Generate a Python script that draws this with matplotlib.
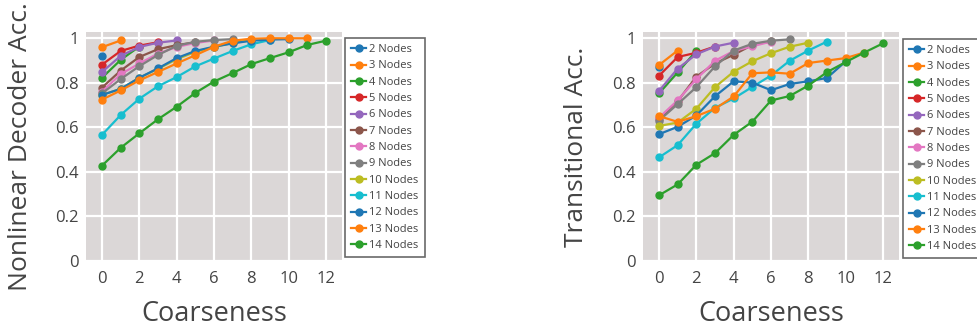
import matplotlib
matplotlib.use("Agg")
import matplotlib.pyplot as plt

plt.rcParams["font.family"] = ["Open Sans", "DejaVu Sans"]

# ── 数据 ─────────────────────────────────────────────────────────
node_labels = [f"{n} Nodes" for n in range(2, 15)]

nonlinear_acc = [
    [0.918],
    [0.959, 0.989],
    [0.822, 0.902, 0.962],
    [0.881, 0.942, 0.966, 0.981],
    [0.848, 0.920, 0.960, 0.979, 0.989],
    [0.778, 0.854, 0.915, 0.950, 0.968, 0.981],
    [0.760, 0.838, 0.886, 0.930, 0.960, 0.978, 0.989],
    [0.752, 0.816, 0.874, 0.924, 0.965, 0.983, 0.991, 0.995],
    [0.745, 0.772, 0.822, 0.862, 0.905, 0.938, 0.960, 0.978, 0.990],
    [0.566, 0.655, 0.728, 0.784, 0.825, 0.873, 0.908, 0.942, 0.972, 0.991],
    [0.745, 0.772, 0.822, 0.864, 0.910, 0.942, 0.961, 0.976, 0.988, 0.993, 0.995],
    [0.724, 0.765, 0.810, 0.848, 0.886, 0.923, 0.961, 0.988, 0.997, 0.999, 0.999, 0.999],
    [0.428, 0.508, 0.573, 0.636, 0.692, 0.754, 0.805, 0.843, 0.883, 0.910, 0.936, 0.969, 0.988],
]

transitional_acc = [
    [0.872],
    [0.879, 0.944],
    [0.752, 0.846, 0.943],
    [0.831, 0.915, 0.934, 0.962],
    [0.763, 0.863, 0.927, 0.962, 0.979],
    [0.636, 0.717, 0.827, 0.886, 0.925, 0.969, 0.985],
    [0.643, 0.721, 0.816, 0.898, 0.942, 0.963, 0.984],
    [0.630, 0.704, 0.780, 0.873, 0.944, 0.974, 0.988, 0.994],
    [0.606, 0.621, 0.683, 0.780, 0.849, 0.896, 0.932, 0.961, 0.979],
    [0.465, 0.520, 0.616, 0.687, 0.729, 0.781, 0.832, 0.898, 0.944, 0.984],
    [0.569, 0.602, 0.653, 0.739, 0.806, 0.800, 0.766, 0.794, 0.806, 0.821, 0.895],
    [0.650, 0.624, 0.650, 0.683, 0.738, 0.842, 0.846, 0.840, 0.888, 0.899, 0.910, 0.935],
    [0.295, 0.344, 0.432, 0.484, 0.566, 0.625, 0.720, 0.740, 0.787, 0.847, 0.892, 0.935, 0.976],
]

y_labels = ["Nonlinear Decoder Acc.", "Transitional Acc."]
x_label = "Coarseness"

colors = ["#1f77b4", "#ff7f0e", "#2ca02c", "#d62728", "#9467bd", "#8c564b",
          "#e377c2", "#7f7f7f", "#bcbd22", "#17becf"]

BG = "#dbd7d7"
TXT = "#444444"

# ── 绘图 ─────────────────────────────────────────────────────────
fig = plt.figure(figsize=(9.77, 3.28), dpi=100)
ax_rects = [[86 / 977, 66 / 328, 256 / 977, 230 / 328],
            [643 / 977, 66 / 328, 256 / 977, 230 / 328]]
legend_anchor = [(345 / 977, 1 - 38 / 328), (903 / 977, 1 - 39 / 328)]
ylabel_x = [-0.254, -0.258]

for k, data in enumerate([nonlinear_acc, transitional_acc]):
    ax = fig.add_axes(ax_rects[k])
    ax.set_facecolor(BG)
    for i, vals in enumerate(data):
        ax.plot(range(len(vals)), vals, color=colors[i % len(colors)],
                linewidth=1.6, marker="o", markersize=5, label=node_labels[i],
                zorder=3)

    ax.set_xlim(-0.86, 12.86)
    ax.set_ylim(-0.004, 1.027)
    ax.set_xticks(range(0, 13, 2))
    ax.set_yticks([0, 0.2, 0.4, 0.6, 0.8, 1])
    ax.set_yticklabels(["0", "0.2", "0.4", "0.6", "0.8", "1"])
    ax.grid(True, color="white", linewidth=1.6, zorder=0)
    ax.set_axisbelow(True)
    for s in ax.spines.values():
        s.set_visible(False)
    ax.tick_params(length=0, labelsize=12, labelcolor=TXT)
    ax.tick_params(axis="x", pad=6.5)
    ax.tick_params(axis="y", pad=5)

    ax.set_xlabel(x_label, fontsize=19.5, color=TXT, va="center")
    ax.xaxis.set_label_coords(0.5, -0.228)
    ax.set_ylabel(y_labels[k], fontsize=19, color=TXT, va="center")
    ax.yaxis.set_label_coords(ylabel_x[k], 0.5)

    leg = fig.legend(*ax.get_legend_handles_labels(), loc="upper left",
                     bbox_to_anchor=legend_anchor[k], fontsize=8,
                     frameon=True, fancybox=False, handlelength=1.35,
                     handletextpad=0.3, labelspacing=0.48, borderpad=0.55,
                     borderaxespad=0, labelcolor=TXT)
    leg.get_frame().set_edgecolor("#444444")
    leg.get_frame().set_linewidth(1.2)

plt.savefig("out.png", dpi=100)
plt.close()
